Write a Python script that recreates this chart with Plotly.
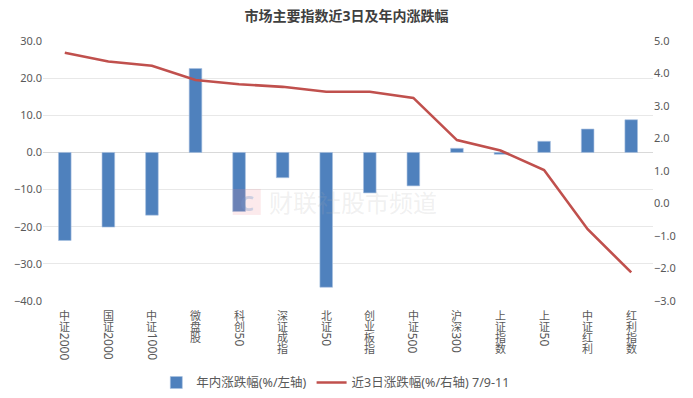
import plotly.graph_objects as go

categories = ["中证2000", "国证2000", "中证1000", "微盘股", "科创50", "深证成指", "北证50",
              "创业板指", "中证500", "沪深300", "上证指数", "上证50", "中证红利", "红利指数"]
ytd_change = [-23.7, -20.1, -16.9, 22.6, -15.9, -6.8, -36.3, -10.9, -9.0, 1.1, -0.5, 3.0, 6.3, 8.8]
three_day_change = [4.64, 4.37, 4.24, 3.80, 3.67, 3.59, 3.44, 3.44, 3.25, 1.95, 1.63, 1.03, -0.79, -2.12]

title_text = "市场主要指数近3日及年内涨跌幅"
bar_name = "年内涨跌幅(%/左轴)"
line_name = "近3日涨跌幅(%/右轴) 7/9-11"
watermark = "财联社股市频道"

FONT = "Noto Sans, Noto Sans CJK SC, sans-serif"
GREY = "#595959"

fig = go.Figure()
fig.add_trace(go.Bar(
    x=categories, y=ytd_change, name=bar_name,
    marker=dict(color="#4f81bd", line=dict(color="#a9c1e0", width=0.6)),
    width=0.29, yaxis="y",
))
fig.add_trace(go.Scatter(
    x=categories, y=three_day_change, name=line_name, mode="lines",
    line=dict(color="#c0504d", width=2.6), yaxis="y2",
))

# vertical x labels: CJK upright, digits rotated
annotations = []
CH = 11.3
DW = 7.0
for cat in categories:
    cjk = "".join(c for c in cat if not c.isdigit())
    digits = "".join(c for c in cat if c.isdigit())
    for i, ch in enumerate(cjk):
        annotations.append(dict(
            x=cat, xref="x", y=0, yref="paper", yanchor="middle", xanchor="center",
            yshift=-14 - i * CH, text=ch, showarrow=False,
            font=dict(family=FONT, size=11, color=GREY),
        ))
    if digits:
        annotations.append(dict(
            x=cat, xref="x", y=0, yref="paper", yanchor="middle", xanchor="center",
            yshift=-9 - len(cjk) * CH - len(digits) * DW / 2, text=digits, textangle=90,
            showarrow=False, font=dict(family=FONT, size=12, color=GREY),
        ))

annotations.append(dict(
    x=0.508, y=0.377, xref="paper", yref="paper", text=watermark, showarrow=False,
    font=dict(family=FONT, size=24, color="rgba(170,170,170,0.18)"),
))
annotations.append(dict(
    x=0.334, y=0.381, xref="paper", yref="paper", text="<b>C</b>", showarrow=False,
    font=dict(family=FONT, size=22, color="rgba(120,150,200,0.35)"),
))

fig.update_layout(
    width=693, height=398,
    margin=dict(l=43, r=40, t=41, b=97, autoexpand=False),
    paper_bgcolor="white", plot_bgcolor="white",
    font=dict(family=FONT, size=11, color=GREY),
    title=dict(text="<b>" + title_text + "</b>", x=0.5, xanchor="center",
               y=1 - 16 / 398, yanchor="middle", yref="container", automargin=False,
               font=dict(family=FONT, size=14, color="#404040")),
    xaxis=dict(showticklabels=False, showgrid=False, showline=False, ticks="",
               range=[-0.5, len(categories) - 0.5], automargin=False),
    yaxis=dict(range=[-40, 30], dtick=10, tickformat=".1f", showgrid=True,
               gridcolor="#e8e8e8", gridwidth=1, zeroline=True, zerolinecolor="#d9d9d9",
               zerolinewidth=1, showline=False, ticks="", automargin=False,
               tickfont=dict(size=11, color=GREY)),
    yaxis2=dict(range=[-3, 5], dtick=1, tickformat=".1f", overlaying="y", side="right",
                showgrid=False, zeroline=False, showline=False, ticks="", automargin=False,
                tickfont=dict(size=11, color=GREY)),
    legend=dict(orientation="h", x=0.48, xanchor="center", y=-0.315, yanchor="middle",
                font=dict(family=FONT, size=12.5, color=GREY), bgcolor="rgba(0,0,0,0)"),
    annotations=annotations,
    shapes=[dict(type="rect", xref="paper", yref="paper", x0=0.311, x1=0.357, y0=0.331, y1=0.431,
                 fillcolor="rgba(240,140,150,0.18)", line=dict(width=0), layer="above")],
    bargap=0.7,
)

fig.write_html("out.html", config={"displayModeBar": False},
               post_script="document.body.style.margin='0';")
